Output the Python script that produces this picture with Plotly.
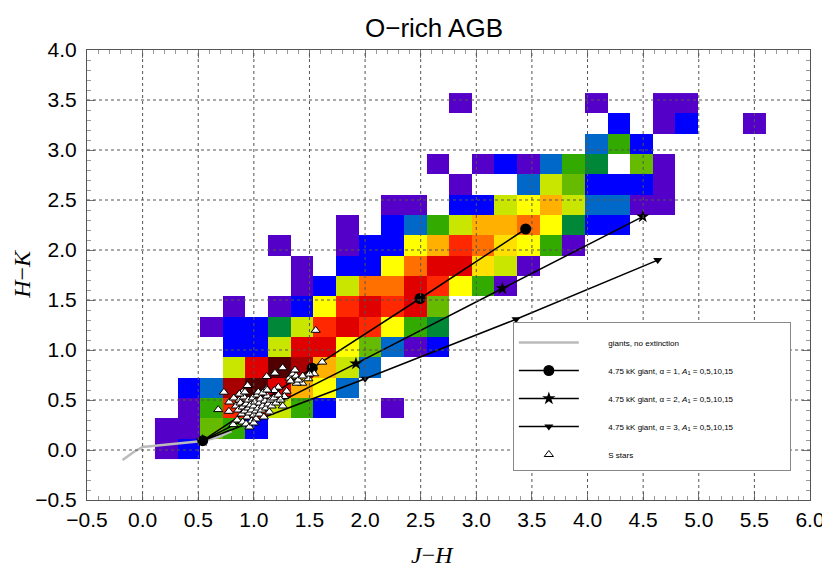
import plotly.graph_objects as go
import numpy as np

# 2D histogram of O-rich AGB stars in (J-H, H-K); 0 = empty bin, 1..15 = colour level
jh_first_edge = 0.111
hk_first_edge = -0.090
bin_w = 0.2033

counts = [
    [1, 2, 0, 0, 0, 0, 0, 0, 0, 0, 0, 0, 0, 0, 0, 0, 0, 0, 0, 0, 0, 0, 0, 0, 0, 0, 0],
    [1, 1, 6, 5, 2, 0, 0, 0, 0, 0, 0, 0, 0, 0, 0, 0, 0, 0, 0, 0, 0, 0, 0, 0, 0, 0, 0],
    [0, 1, 5, 12, 12, 7, 5, 2, 0, 0, 1, 0, 0, 0, 0, 0, 0, 0, 0, 0, 0, 0, 0, 0, 0, 0, 0],
    [0, 2, 3, 14, 15, 13, 10, 8, 3, 0, 0, 0, 0, 0, 0, 0, 0, 0, 0, 0, 0, 0, 0, 0, 0, 0, 0],
    [0, 0, 0, 7, 13, 15, 14, 10, 7, 3, 0, 0, 0, 0, 0, 0, 0, 0, 0, 0, 0, 0, 0, 0, 0, 0, 0],
    [0, 0, 0, 2, 2, 7, 13, 13, 8, 6, 3, 1, 2, 0, 0, 0, 0, 0, 0, 0, 0, 0, 0, 0, 0, 0, 0],
    [0, 0, 1, 2, 2, 4, 7, 12, 13, 12, 8, 5, 4, 0, 0, 0, 0, 0, 0, 0, 0, 0, 0, 0, 0, 0, 0],
    [0, 0, 0, 1, 0, 1, 2, 8, 12, 13, 12, 13, 6, 0, 0, 0, 0, 0, 0, 0, 0, 0, 0, 0, 0, 0, 0],
    [0, 0, 0, 0, 0, 0, 1, 2, 7, 11, 11, 13, 12, 8, 5, 1, 0, 0, 0, 0, 0, 0, 0, 0, 0, 0, 0],
    [0, 0, 0, 0, 0, 0, 1, 0, 2, 2, 8, 11, 13, 13, 9, 7, 1, 0, 0, 0, 0, 0, 0, 0, 0, 0, 0],
    [0, 0, 0, 0, 0, 1, 0, 0, 1, 2, 2, 8, 10, 12, 11, 9, 8, 5, 1, 0, 0, 0, 0, 0, 0, 0, 0],
    [0, 0, 0, 0, 0, 0, 0, 0, 1, 0, 2, 3, 5, 7, 10, 10, 11, 8, 4, 2, 2, 0, 0, 0, 0, 0, 0],
    [0, 0, 0, 0, 0, 0, 0, 0, 0, 0, 1, 1, 0, 2, 2, 7, 8, 10, 7, 3, 3, 1, 1, 0, 0, 0, 0],
    [0, 0, 0, 0, 0, 0, 0, 0, 0, 0, 0, 0, 0, 1, 0, 0, 3, 7, 6, 2, 2, 2, 1, 0, 0, 0, 0],
    [0, 0, 0, 0, 0, 0, 0, 0, 0, 0, 0, 0, 1, 0, 1, 2, 1, 3, 5, 4, 0, 6, 1, 0, 0, 0, 0],
    [0, 0, 0, 0, 0, 0, 0, 0, 0, 0, 0, 0, 0, 0, 0, 0, 0, 0, 0, 3, 5, 2, 0, 0, 0, 0, 0],
    [0, 0, 0, 0, 0, 0, 0, 0, 0, 0, 0, 0, 0, 0, 0, 0, 0, 0, 0, 0, 2, 0, 1, 2, 0, 0, 1],
    [0, 0, 0, 0, 0, 0, 0, 0, 0, 0, 0, 0, 0, 1, 0, 0, 0, 0, 0, 1, 0, 0, 1, 1, 0, 0, 0],
]

level_colors = ["#5500c8", "#0000ff", "#0068c8", "#008838", "#33aa00", "#66bb00",
                "#c8e600", "#ffff00", "#ffe000", "#ffb000", "#ff7000", "#ff2800",
                "#e00000", "#a80000", "#500000"]

# giants without extinction
giant_jh = [-0.18, -0.08, 0.0, 0.2, 0.54, 0.68, 0.8]
giant_hk = [-0.10, -0.02, 0.03, 0.05, 0.09, 0.13, 0.19]

# reddening vectors of a 4.75 kK giant, A1 = 0, 5, 10, 15
a1_jh = [0.54, 1.525, 2.494, 3.444]
a1_hk = [0.093, 0.818, 1.515, 2.21]
a2_jh = [0.54, 1.918, 3.234, 4.496]
a2_hk = [0.093, 0.863, 1.615, 2.333]
a3_jh = [0.54, 2.0, 3.357, 4.631]
a3_hk = [0.093, 0.712, 1.307, 1.899]

# S stars
s_jh = [1.556, 1.615, 1.543, 1.49, 1.435, 1.385, 1.259, 1.19, 1.115, 0.944, 0.731, 0.68,
        0.776, 0.815, 1.295, 1.274, 1.22, 1.184, 1.115, 0.896, 1.32, 1.35, 1.37, 1.38,
        1.33, 1.40, 1.44, 1.50,
        0.78, 0.82, 0.84, 0.86, 0.87, 0.88, 0.89, 0.90, 0.91, 0.92, 0.93, 0.94, 0.95, 0.95,
        0.96, 0.97, 0.98, 0.98, 0.99, 1.00, 1.00, 1.01, 1.02, 1.02, 1.03, 1.04, 1.05, 1.05,
        1.06, 1.07, 1.08, 1.09, 1.10, 1.11, 1.12, 1.13, 1.14, 1.15, 1.16, 1.18, 1.20, 1.22,
        1.24, 1.26, 0.85, 0.90, 0.93, 0.96, 1.00, 0.87, 0.92, 1.04, 1.08, 1.12]
s_hk = [1.197, 0.879, 0.762, 0.712, 0.668, 0.668, 0.822, 0.769, 0.735, 0.645, 0.578, 0.404,
        0.387, 0.254, 0.588, 0.535, 0.628, 0.595, 0.612, 0.578, 0.72, 0.76, 0.80, 0.74,
        0.69, 0.70, 0.74, 0.76,
        0.48, 0.52, 0.44, 0.40, 0.50, 0.47, 0.36, 0.43, 0.53, 0.39, 0.46, 0.33, 0.42, 0.50,
        0.37, 0.45, 0.29, 0.40, 0.52, 0.35, 0.44, 0.48, 0.31, 0.39, 0.55, 0.42, 0.36, 0.47,
        0.51, 0.40, 0.44, 0.33, 0.49, 0.42, 0.54, 0.46, 0.38, 0.50, 0.44, 0.52, 0.47, 0.55,
        0.50, 0.44, 0.30, 0.28, 0.26, 0.23, 0.27, 0.56, 0.58, 0.58, 0.57, 0.60]

n_rows, n_cols = len(counts), len(counts[0])
x_centers = jh_first_edge + bin_w * (np.arange(n_cols) + 0.5)
y_centers = hk_first_edge + bin_w * (np.arange(n_rows) + 0.5)
z = np.array(counts, dtype=float)
z[z == 0] = np.nan

# discrete colour scale
nl = len(level_colors)
cscale = []
for i, c in enumerate(level_colors):
    cscale.append([i / nl, c])
    cscale.append([(i + 1) / nl, c])

pad = "\u00a0" * 11  # push legend text to the right like the original
vec_label = "4.75 kK giant, α = {}, <i>A</i><sub>1</sub> = 0,5,10,15"

fig = go.Figure()
fig.add_trace(go.Heatmap(x=x_centers, y=y_centers, z=z, colorscale=cscale,
                         zmin=0.5, zmax=nl + 0.5, showscale=False, hoverongaps=False))

fig.add_trace(go.Scatter(x=giant_jh, y=giant_hk, mode="lines", name=pad + "giants, no extinction",
                         line=dict(color="#bbbbbb", width=2.5), legendgroup="g1", legendrank=1))
fig.add_trace(go.Scatter(x=a3_jh, y=a3_hk, mode="lines+markers", legendrank=4,
                         name=pad + vec_label.format(3),
                         line=dict(color="black", width=1.5),
                         marker=dict(symbol="triangle-down", size=8, color="black"), legendgroup="g4"))
fig.add_trace(go.Scatter(x=a2_jh, y=a2_hk, mode="lines+markers", legendrank=3,
                         name=pad + vec_label.format(2),
                         line=dict(color="black", width=1.5),
                         marker=dict(symbol="star", size=10, color="black"), legendgroup="g3"))
fig.add_trace(go.Scatter(x=a1_jh, y=a1_hk, mode="lines+markers", legendrank=2,
                         name=pad + vec_label.format(1) + "\u00a0" * 23,
                         line=dict(color="black", width=1.5),
                         marker=dict(symbol="circle", size=11, color="black"), legendgroup="g2"))
fig.add_trace(go.Scatter(x=s_jh, y=s_hk, mode="markers", name=pad + "S stars", legendrank=5,
                         marker=dict(symbol="triangle-up", size=8, color="white",
                                     line=dict(color="black", width=1)), legendgroup="g5"))

# dotted grid above the histogram
for v in np.arange(0.0, 6.0, 0.5):
    fig.add_shape(type="line", x0=v, x1=v, y0=-0.5, y1=4.0, xref="x", yref="y",
                  line=dict(color="#555555", width=1, dash="dot"), layer="above")
for v in np.arange(0.0, 4.0, 0.5):
    fig.add_shape(type="line", x0=-0.5, x1=6.0, y0=v, y1=v, xref="x", yref="y",
                  line=dict(color="#555555", width=1, dash="dot"), layer="above")

axis_common = dict(showgrid=False, zeroline=False, showline=True, linecolor="#555555",
                   linewidth=1, mirror="allticks", ticks="inside", ticklen=8,
                   tickcolor="#777777", dtick=0.5, tickformat=".1f", automargin=False,
                   tickfont=dict(family="Liberation Sans", size=21, color="black"),
                   minor=dict(dtick=0.1, ticks="inside", ticklen=4, tickcolor="#999999"))

fig.update_xaxes(range=[-0.5, 6.0], tick0=-0.5, ticklabelstandoff=1, **axis_common)
fig.update_yaxes(range=[-0.5, 4.0], tick0=-0.5, ticklabelstandoff=5, **axis_common)

# axis titles
fig.add_annotation(text="<i>J</i>−<i>H</i>", xref="paper", yref="paper", x=0.478, y=-0.123,
                   xanchor="center", yanchor="middle", showarrow=False,
                   font=dict(family="Liberation Serif", size=24, color="black"))
fig.add_annotation(text="<i>H</i>−<i>K</i>", xref="paper", yref="paper", x=-0.091, y=0.503,
                   xanchor="center", yanchor="middle", showarrow=False, textangle=-90,
                   font=dict(family="Liberation Serif", size=24, color="black"))

# the page body adds 8 px, so the figure is 8 px smaller and shifted
fig.update_layout(
    width=822, height=566,
    margin=dict(l=79, r=20, t=42, b=74),
    plot_bgcolor="white", paper_bgcolor="white",
    title=dict(text="O−rich AGB", x=0.48, xref="paper", y=1 - 20 / 566, yref="container",
               xanchor="center", yanchor="middle", automargin=False,
               font=dict(family="Liberation Sans", size=26, color="black")),
    legend=dict(x=0.589, y=0.396, xanchor="left", yanchor="top",
                bgcolor="white", bordercolor="#888888", borderwidth=1,
                font=dict(family="Liberation Sans", size=8, color="black"),
                title=dict(text="\u00a0", font=dict(size=4)),
                tracegroupgap=9, itemwidth=60),
)

fig.write_html("out.html")
